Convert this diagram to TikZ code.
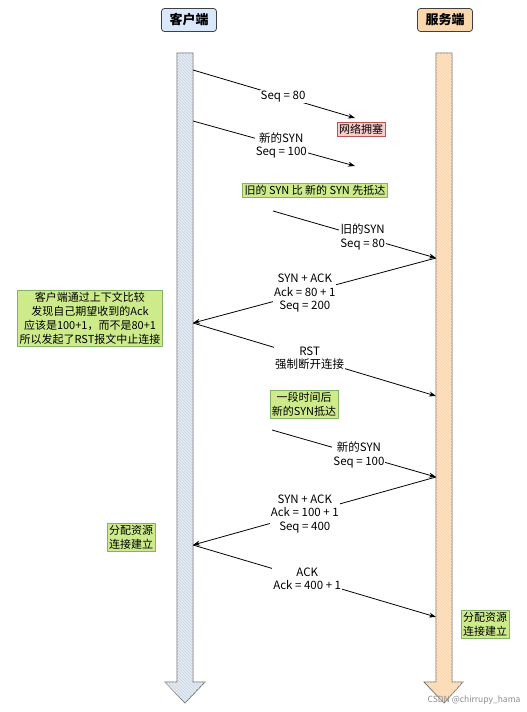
\documentclass[tikz,border=0pt]{standalone}
\usepackage{fontspec}
\setmainfont{Noto Sans CJK SC}
\usetikzlibrary{arrows.meta,patterns}

\definecolor{clientblue}{HTML}{DAE8FC}
\definecolor{serverorange}{HTML}{FAD7AC}
\definecolor{notegreen}{HTML}{CDEB8B}
\definecolor{notegreenline}{HTML}{82B366}
\definecolor{notered}{HTML}{F8CECC}
\definecolor{noteredline}{HTML}{B85450}

\tikzset{
  header/.style={draw=black!75, line width=0.8pt, rounded corners=3pt,
    minimum width=55pt, minimum height=23pt,
    font=\fontsize{13}{15}\selectfont\bfseries},
  lifeline/.style={draw=black!60, line width=0.7pt},
  note/.style={draw=notegreenline, fill=notegreen, align=center,
    inner sep=2pt, font=\fontsize{11}{14}\selectfont},
  msg/.style={fill=white, align=center, inner sep=1pt,
    font=\fontsize{11.5}{13.5}\selectfont},
  msgline/.style={line width=0.8pt, -{Stealth[length=7pt,width=5pt]}},
}

\begin{document}
\begin{tikzpicture}[x=1pt, y=-1pt]
  \useasboundingbox[fill=white] (0,0) rectangle (527,712);

  \node[header, fill=clientblue] (client) at (189,20) {客户端};
  \node[header, fill=serverorange] (server) at (445,20) {服务端};

  \filldraw[lifeline, fill=clientblue!80,
      postaction={pattern=north west lines, pattern color=black!18}]
    (177,53) -- (193,53) -- (193,682) -- (205,682) -- (185,703)
    -- (165,682) -- (177,682) -- cycle;
  \filldraw[lifeline, fill=serverorange!70,
      postaction={pattern=north west lines, pattern color=orange!35}]
    (436,53) -- (452,53) -- (452,682) -- (463,682) -- (444,703)
    -- (424,682) -- (436,682) -- cycle;

  \coordinate (c1) at (193,70);
  \coordinate (c2) at (193,121);
  \coordinate (c3) at (193,323);
  \coordinate (c4) at (193,545);
  \coordinate (s1) at (436,258);
  \coordinate (s2) at (436,396);
  \coordinate (s3) at (436,477);
  \coordinate (s4) at (436,617);
  \coordinate (lost1) at (355,118);
  \coordinate (lost2) at (355,166);
  \coordinate (old1) at (273,211);
  \coordinate (new1) at (272,430);

  \draw[msgline] (c1) -- node[msg, pos=0.556] (m1) {Seq = 80} (lost1);
  \draw[msgline] (c2) -- node[msg, pos=0.545] (m2) {新的SYN\\Seq = 100} (lost2);
  \draw[msgline] (old1) -- node[msg, pos=0.55] (m3) {旧的SYN\\Seq = 80} (s1);
  \draw[msgline] (s1) -- node[msg, pos=0.54] (m4)
    {SYN + ACK\\Ack = 80 + 1\\Seq = 200} (c3);
  \draw[msgline] (c3) -- node[msg, pos=0.48] (m5) {RST\\强制断开连接} (s2);
  \draw[msgline] (new1) -- node[msg, pos=0.53] (m6) {新的SYN\\Seq = 100} (s3);
  \draw[msgline] (s3) -- node[msg, pos=0.54] (m7)
    {SYN + ACK\\Ack = 100 + 1\\Seq = 400} (c4);
  \draw[msgline] (c4) -- node[msg, pos=0.47] (m8) {ACK\\Ack = 400 + 1} (s4);

  \node[note, draw=noteredline, fill=notered] (congest) at (361,129) {网络拥塞};
  \node[note] (overtake) at (315,190) {旧的 SYN 比 新的 SYN 先抵达};
  \node[note] (reason) at (90,318)
    {客户端通过上下文比较\\发现自己期望收到的Ack\\应该是100+1，而不是80+1\\所以发起了RST报文中止连接};
  \node[note] (later) at (304,404) {一段时间后\\新的SYN抵达};
  \node[note] (clientok) at (131,537) {分配资源\\连接建立};
  \node[note] (serverok) at (485,624) {分配资源\\连接建立};

  \node[text=black!45, font=\fontsize{8.5}{10}\selectfont] (mark) at (474,700)
    {CSDN @chirrupy\_hama};
\end{tikzpicture}
\end{document}
